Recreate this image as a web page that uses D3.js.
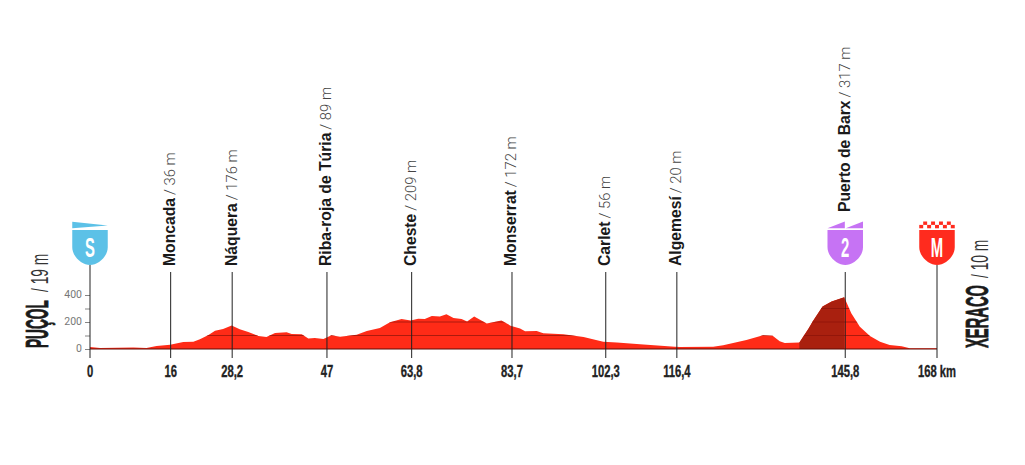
<!DOCTYPE html>
<html><head><meta charset="utf-8">
<script src="https://cdn.jsdelivr.net/npm/d3@7"></script>
<style>html,body{margin:0;background:#fff}svg{display:block}</style></head>
<body><svg id="c" width="1025" height="465"></svg>
<script>
const profileKm=[0,2,8.6,11.2,13.2,15.9,18.5,20.5,21.8,23.5,24.8,26.4,28.1,29.7,31.4,33.4,35,36.7,39,40,42,43.3,44.6,46.3,47.9,49.6,52.9,54.9,57.5,59.5,61.8,63.6,65.1,66.4,67.8,69.4,70.7,72.1,73.7,74.8,76.2,78.7,81.6,83.4,85.3,86.3,88.6,89.9,93.9,97.9,101.8,104.5,109.1,116,117,123.6,125.6,130.2,133.5,135.4,136.8,137.8,140.7,142.5,143.4,145.3,147.1,149.6,151,152.7,154.7,156.7,158.6,161,162.6,168];
const profileElev=[15,7,12,7,22,32,52,54,72,104,136,148,175,146,126,96,89,119,124,111,109,77,82,74,101,91,106,133,156,198,222,212,225,222,245,240,257,230,222,203,240,188,212,173,151,131,133,116,109,89,54,49,35,17,15,17,27,67,101,99,57,44,49,150,207,314,351,383,264,165,96,54,30,20,5,5];
const climbStart=140.7, climbEnd=149.6;
const placeKm=[16,28.2,47,63.8,83.7,102.3,116.4,149.8];
const placeNames=["Moncada","Náquera","Riba-roja de Túria","Cheste","Monserrat","Carlet","Algemesí","Puerto de Barx"];
const placeHeights=["/ 36 m","/ 176 m","/ 89 m","/ 209 m","/ 172 m","/ 56 m","/ 20 m","/ 317 m"];
const tickKm=[0,16,28.2,47,63.8,83.7,102.3,116.4,149.8,168];
const tickLabels=["0","16","28,2","47","63,8","83,7","102,3","116,4","145,8","168 km"];
const elevTicks=[0,100,200,300,400];
const elevLabels=["0","","200","","400"];
const gridLevels=[100,200,300];
const badgeKm=[0,149.8,168];
const badgeLetters=["S","2","M"];
const badgeColors=["#5cc1e7","#c673f4","#ff2b1e"];

const svg=d3.select("#c");
const x=d3.scaleLinear().domain([0,168]).range([90,937]);
const y=d3.scaleLinear().domain([0,400]).range([349,295]);
const pts=profileKm.map((k,i)=>[k,profileElev[i]]);
const area=d3.area().x(d=>x(d[0])).y0(y(0)).y1(d=>y(d[1]));
svg.append("defs").append("clipPath").attr("id","p").append("path").attr("d",area(pts));
svg.append("path").attr("d",area(pts)).attr("fill","#ff2b17");
svg.append("path").attr("d",area(pts.filter(d=>d[0]>=climbStart&&d[0]<=climbEnd))).attr("fill","#a9200f");
svg.append("g").attr("clip-path","url(#p)").selectAll("line").data(gridLevels).join("line")
 .attr("x1",x(0)).attr("x2",x(168)).attr("y1",d=>y(d)).attr("y2",d=>y(d)).attr("stroke","#8a1208").attr("stroke-width",.7);
svg.append("line").attr("x1",x(0)).attr("x2",x(168)).attr("y1",y(0)).attr("y2",y(0)).attr("stroke","#5a0d06").attr("stroke-width",1);

// elevation axis
const ax=svg.append("g").attr("transform",`translate(${x(0)},0)`)
 .call(d3.axisLeft(y).tickValues(elevTicks).tickSize(5).tickPadding(3).tickFormat((d,i)=>elevLabels[i]));
ax.select(".domain").remove();
ax.selectAll("line").attr("stroke","#666").attr("stroke-width",.8);
ax.selectAll("text").attr("font-family","Roboto").attr("font-size",10.5).attr("fill","#777").attr("dy","0.22em");

// km stems
svg.selectAll(".stem").data(placeKm).join("line").attr("class","stem")
 .attr("x1",d=>x(d)).attr("x2",d=>x(d)).attr("y1",272).attr("y2",358).attr("stroke","#222").attr("stroke-width",1);
svg.selectAll(".edge").data([0,168]).join("line").attr("class","edge")
 .attr("x1",d=>x(d)).attr("x2",d=>x(d)).attr("y1",265).attr("y2",358).attr("stroke","#222").attr("stroke-width",1);

// km labels
svg.selectAll(".km").data(tickKm).join("text").attr("class","km")
 .attr("transform",d=>`translate(${x(d)},377) scale(.66,1)`).attr("text-anchor","middle")
 .attr("font-family","Liberation Sans").attr("font-weight",700).attr("font-size",17).attr("fill","#222")
 .attr("stroke","#222").attr("stroke-width",.35)
 .text((d,i)=>tickLabels[i]);

// place labels
const pl=svg.selectAll(".pl").data(placeKm).join("text").attr("class","pl")
 .attr("transform",(d,i)=>`translate(${x(d)+4.5},${i==7?212:266}) rotate(-90)`)
 .attr("font-size",15.7);
pl.append("tspan").attr("font-family","Liberation Sans").attr("font-weight",700).attr("fill","#1a1a1a").text((d,i)=>placeNames[i]);
pl.append("tspan").attr("font-family","Roboto").attr("font-weight",300).attr("font-size",14.8).attr("fill","#444").attr("dx",3).text((d,i)=>placeHeights[i]);

// start / finish labels
function endLabel(px,py,name,h,gap,sx){
 const g=svg.append("g").attr("transform",`translate(${px},${py}) rotate(-90)`);
 g.append("text").attr("transform",`scale(${sx},1)`).attr("font-family","Liberation Sans").attr("font-weight",700).attr("font-size",31).attr("fill","#1a1a1a").attr("stroke","#1a1a1a").attr("stroke-width",.8).text(name);
 g.append("text").attr("transform",`translate(${gap},0) scale(.6,1)`).attr("font-family","Liberation Sans").attr("font-size",23).attr("fill","#333").text(h);
}
endLabel(48,348,"PUÇOL","/ 19 m",56,.44);
endLabel(988,348,"XERACO","/ 10 m",70,.475);

// badges
const w=35.5;
const shield=`M0,0H${w}V17C${w},27 ${w*.72},35 ${w/2},35C${w*.28},35 0,27 0,17Z`;
const b=svg.selectAll(".b").data(badgeKm).join("g").attr("class","b")
 .attr("transform",d=>`translate(${x(d)-w/2},230)`);
b.append("path").attr("d",shield).attr("fill",(d,i)=>badgeColors[i]);
b.append("text").attr("transform",`translate(${w/2},26.5) scale(.55,1)`).attr("text-anchor","middle")
 .attr("font-family","Liberation Sans").attr("font-weight",700).attr("font-size",27).attr("fill","#fff")
 .text((d,i)=>badgeLetters[i]);
const s=d3.select(b.nodes()[0]);
s.append("path").attr("d",`M0,-8.3L${w},-4.5L0,-1.7Z`).attr("fill",badgeColors[0]);
const c2=d3.select(b.nodes()[1]);
c2.append("path").attr("d",`M0,-1.7L17.3,-8.5V-1.7Z`).attr("fill",badgeColors[1]);
c2.append("path").attr("d",`M18.3,-1.7L${w},-8.5V-1.7Z`).attr("fill",badgeColors[1]);
const m=d3.select(b.nodes()[2]);
d3.range(9).forEach(i=>m.append("rect").attr("x",i*w/9).attr("width",w/9).attr("y",i%2?-8.5:-5.1).attr("height",3.4).attr("fill",badgeColors[2]));
</script></body></html>
